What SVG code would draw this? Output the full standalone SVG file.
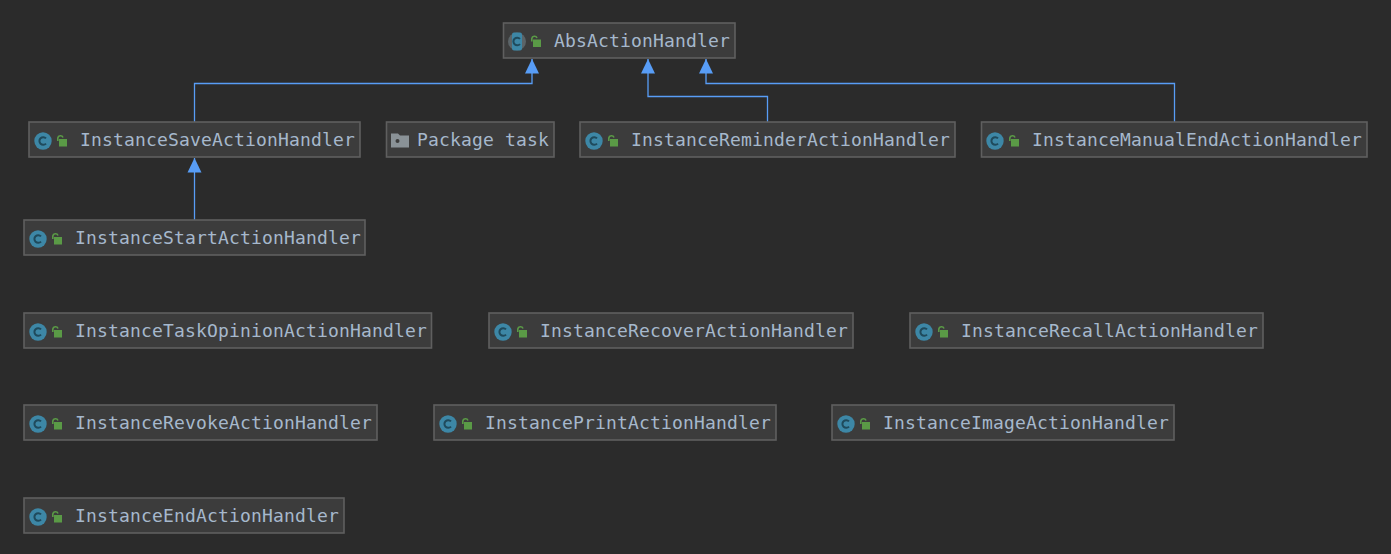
<svg xmlns="http://www.w3.org/2000/svg" width="1391" height="554" viewBox="0 0 1391 554">
<style>
.box{fill:#3c3c3c;stroke:#5f5f5f;stroke-width:1.6}
.t{font-family:"DejaVu Sans Mono","Liberation Mono",monospace;font-size:18px;letter-spacing:.16px;fill:#a6b8cc}
.e{fill:none;stroke:#589df6;stroke-width:1.3}
.ci{fill:#3d87a6}
.cc{fill:none;stroke:#1f4a5c;stroke-width:2}
.lk{fill:#5a9a46}
.ls{fill:none;stroke:#5a9a46;stroke-width:1.6}
</style>
<defs>
<marker id="arr" markerUnits="userSpaceOnUse" markerWidth="16" markerHeight="15" refX="14.5" refY="7.5" orient="auto">
<path d="M0,0.5L14.500,7.500L0,14.500Z" fill="#589df6"/>
</marker>
<g id="cls">
<circle class="ci" cx="0" cy="0" r="8.700"/>
<path class="cc" d="M3,-2.600A3.800,3.800 0 1 0 3,2.600"/>
<rect class="lk" x="16" y="-2" width="8" height="7.500"/>
<path class="ls" d="M14.800,0V-3A2.700,2.700 0 0 1 20,-3.500"/>
</g>
</defs>
<rect width="1391" height="554" fill="#2b2b2b"/>
<g id="connectors">
<path class="e" marker-end="url(#arr)" d="M194.500,122V83.500H532V59"/>
<path class="e" marker-end="url(#arr)" d="M767.500,122V96.500H648V59"/>
<path class="e" marker-end="url(#arr)" d="M1174.500,122V83.500H706V59"/>
<path class="e" marker-end="url(#arr)" d="M194.500,220V158"/>
</g>
<g id="AbsActionHandler"><rect class="box" x="503.500" y="23" width="231.500" height="35"/>
<circle cx="517" cy="41.500" r="9" fill="#5b6468"/><rect x="512" y="32.500" width="10" height="18" rx="2" fill="#3d87a6"/><path class="cc" d="M520,38.900A3.800,3.800 0 1 0 520,44.100"/>
<rect class="lk" x="533" y="39.500" width="8" height="7.500"/><path class="ls" d="M531.800,41.500V38.500A2.700,2.700 0 0 1 537,38"/>
<text class="t" x="554" y="47">AbsActionHandler</text></g>
<g id="InstanceSaveActionHandler"><rect class="box" x="29" y="122" width="331" height="35"/><use href="#cls" x="43" y="141"/><text class="t" x="80" y="146">InstanceSaveActionHandler</text></g>
<g id="PackageTask"><rect class="box" x="386.500" y="122" width="167.500" height="35"/>
<path d="M391,133.500h7l2,2h9v12h-18z" fill="#8a9297"/><circle cx="397.500" cy="141" r="2" fill="#3c3c3c"/>
<text class="t" x="417" y="146">Package task</text></g>
<g id="InstanceReminderActionHandler"><rect class="box" x="580" y="122" width="375" height="35"/><use href="#cls" x="594" y="141"/><text class="t" x="631" y="146">InstanceReminderActionHandler</text></g>
<g id="InstanceManualEndActionHandler"><rect class="box" x="981.500" y="122" width="385.500" height="35"/><use href="#cls" x="995" y="141"/><text class="t" x="1032" y="146">InstanceManualEndActionHandler</text></g>
<g id="InstanceStartActionHandler"><rect class="box" x="24" y="220" width="341" height="35"/><use href="#cls" x="38" y="239"/><text class="t" x="75" y="244">InstanceStartActionHandler</text></g>
<g id="InstanceTaskOpinionActionHandler"><rect class="box" x="24" y="313" width="407.500" height="35"/><use href="#cls" x="38" y="332"/><text class="t" x="75" y="337">InstanceTaskOpinionActionHandler</text></g>
<g id="InstanceRecoverActionHandler"><rect class="box" x="489" y="313" width="364" height="35"/><use href="#cls" x="503" y="332"/><text class="t" x="540" y="337">InstanceRecoverActionHandler</text></g>
<g id="InstanceRecallActionHandler"><rect class="box" x="910" y="313" width="353" height="35"/><use href="#cls" x="924" y="332"/><text class="t" x="961" y="337">InstanceRecallActionHandler</text></g>
<g id="InstanceRevokeActionHandler"><rect class="box" x="24" y="405" width="353" height="35"/><use href="#cls" x="38" y="424"/><text class="t" x="75" y="429">InstanceRevokeActionHandler</text></g>
<g id="InstancePrintActionHandler"><rect class="box" x="434" y="405" width="342" height="35"/><use href="#cls" x="448" y="424"/><text class="t" x="485" y="429">InstancePrintActionHandler</text></g>
<g id="InstanceImageActionHandler"><rect class="box" x="832" y="405" width="342" height="35"/><use href="#cls" x="846" y="424"/><text class="t" x="883" y="429">InstanceImageActionHandler</text></g>
<g id="InstanceEndActionHandler"><rect class="box" x="24" y="498" width="320" height="35"/><use href="#cls" x="38" y="517"/><text class="t" x="75" y="522">InstanceEndActionHandler</text></g>
</svg>
